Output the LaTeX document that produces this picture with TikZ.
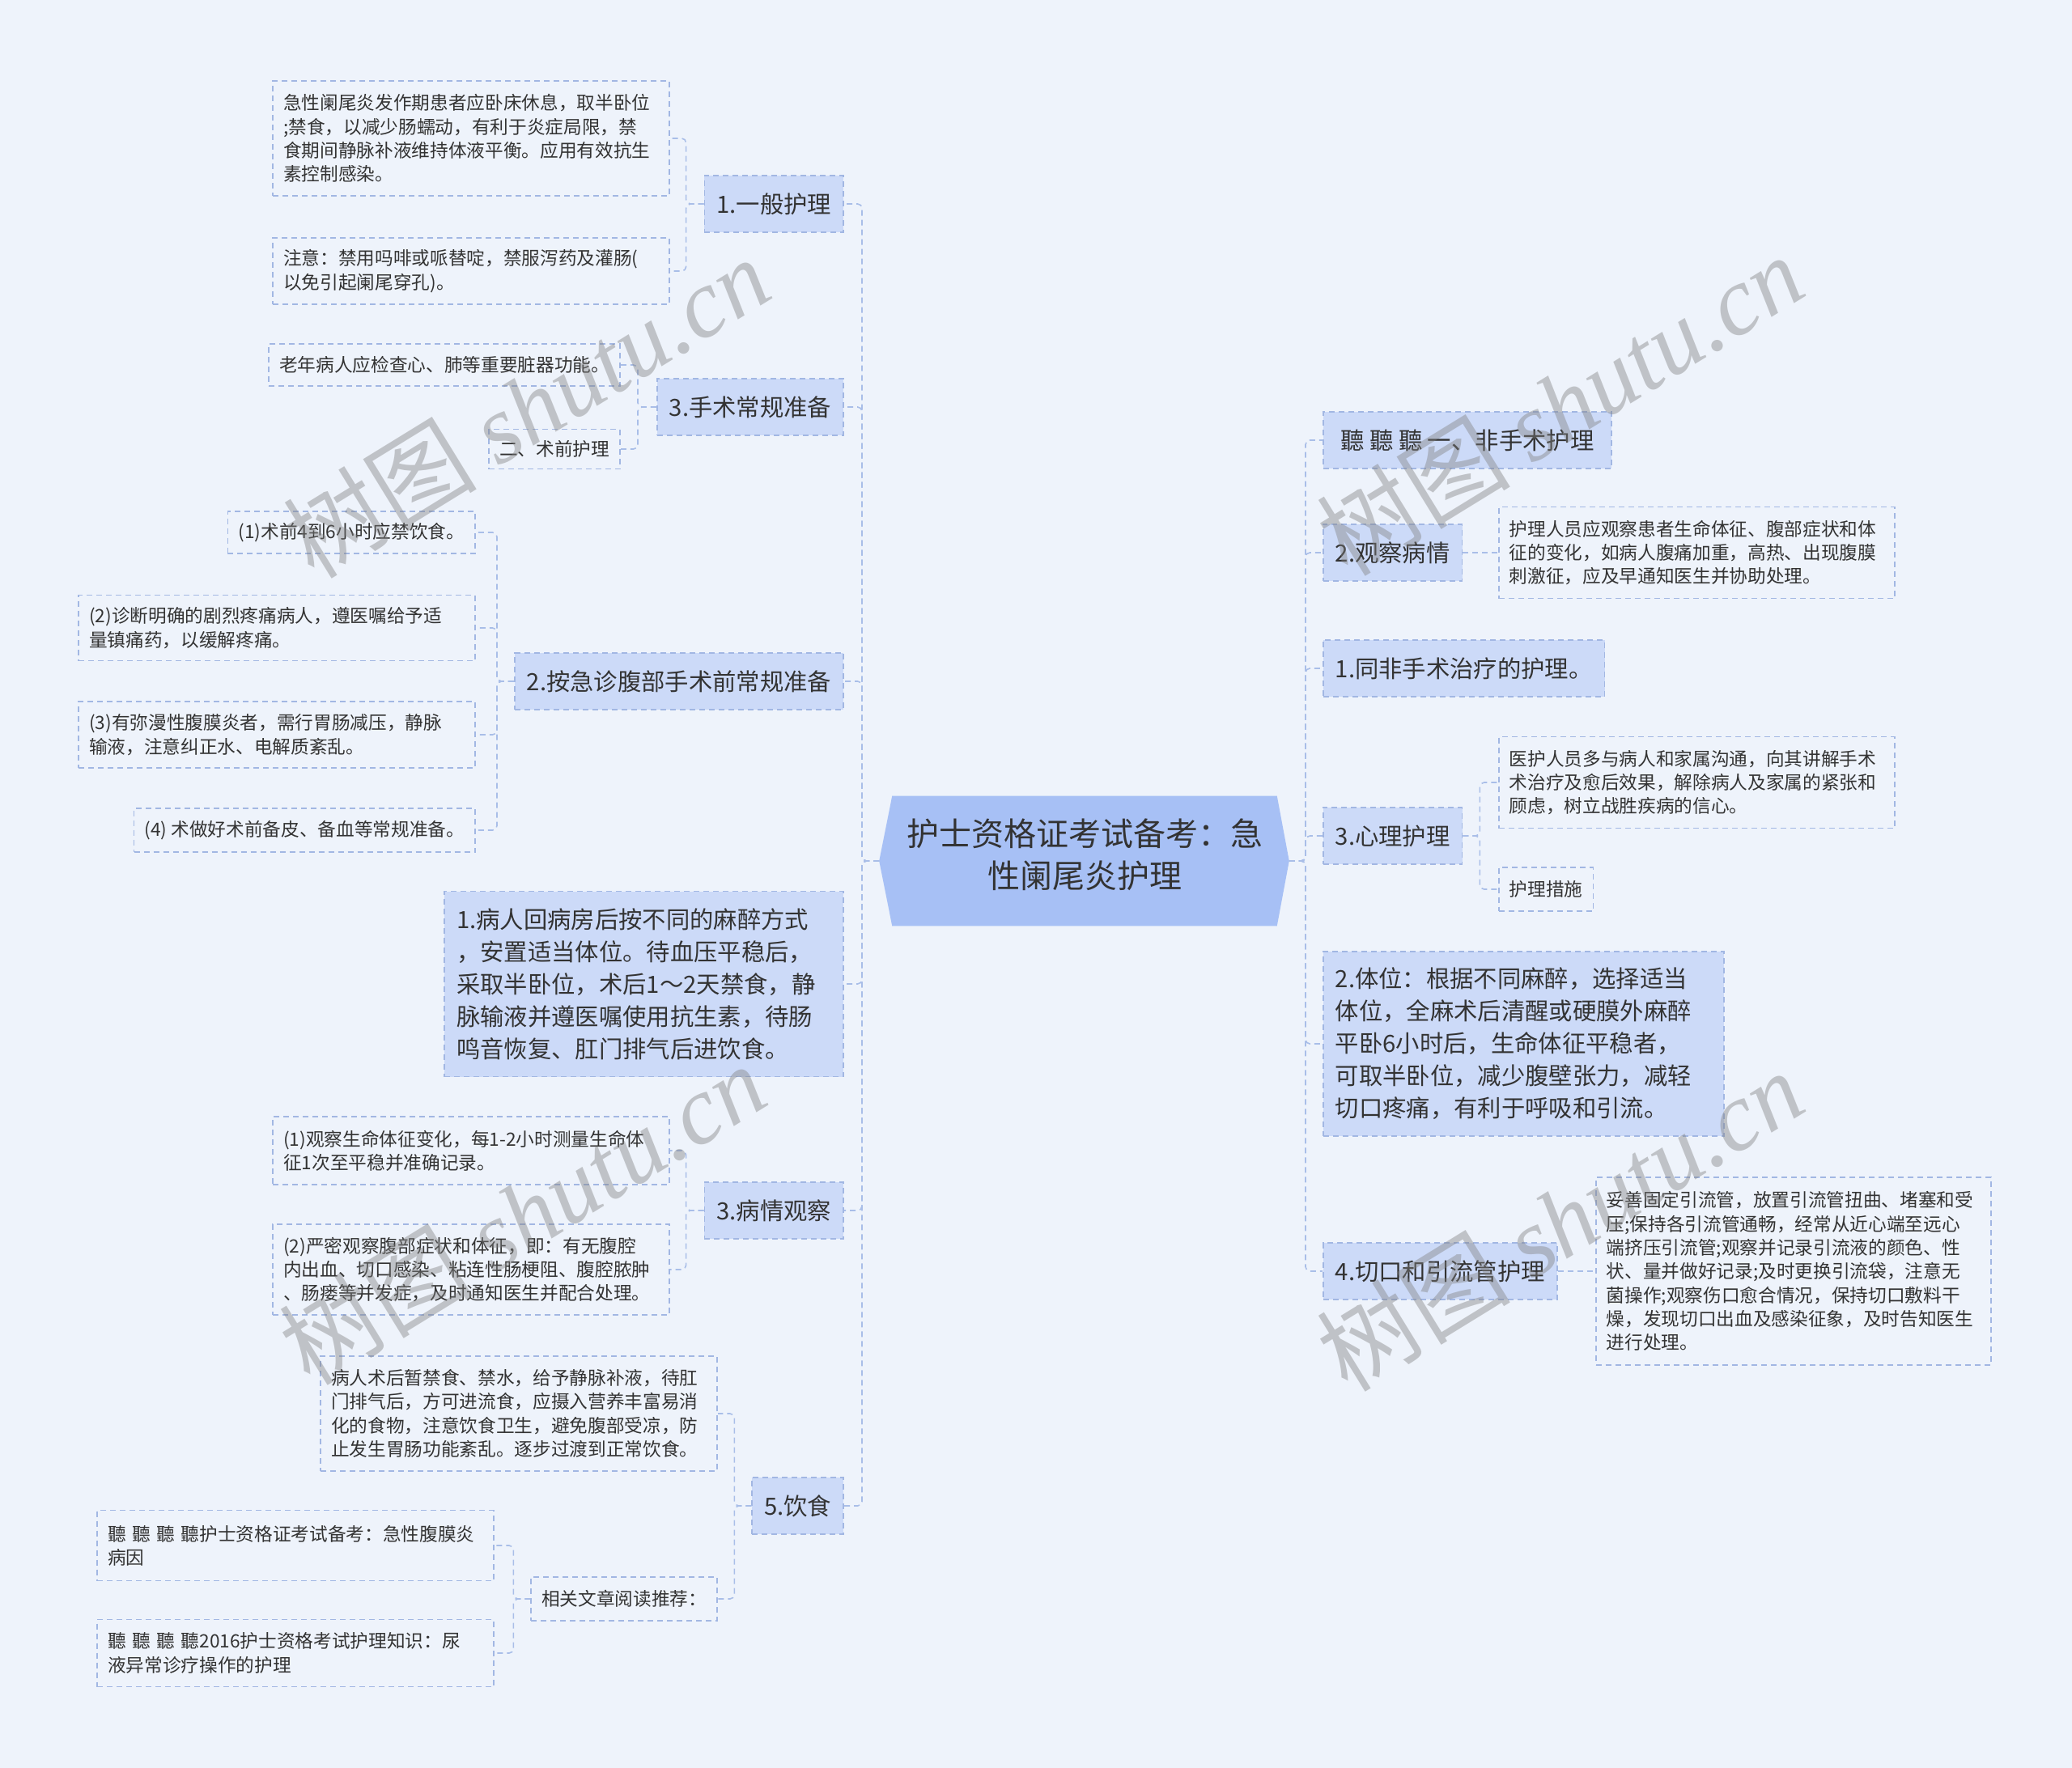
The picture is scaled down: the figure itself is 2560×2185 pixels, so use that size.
\documentclass[tikz,border=0pt]{standalone}
\usepackage{fontspec}
\setmainfont{Noto Sans CJK SC}
\newfontfamily\wmlatin{Liberation Serif}
\usetikzlibrary{calc}
\newdimen\pxu
\pxu=0.75pt
\definecolor{bgc}{HTML}{EEF3FB}
\definecolor{lvfill}{HTML}{CCDAF8}
\definecolor{rootfill}{HTML}{A7C0F5}
\definecolor{bord}{HTML}{A2B7E3}
\definecolor{conc}{HTML}{A9BEE8}
\definecolor{txt}{HTML}{333333}
\definecolor{wmc}{HTML}{808080}
\pgfdeclarelayer{bg}
\pgfsetlayers{bg,main}
\begin{document}
\begin{tikzpicture}[x=0.75pt,y=-0.75pt,
  box/.style={draw=bord, dash pattern=on 5.25pt off 3.75pt, line width=1.2pt,
    inner xsep=13\pxu, inner ysep=0pt, text=txt, align=left},
  leaf/.style={box, font=\fontsize{17}{22}\selectfont},
  lvl/.style={box, fill=lvfill, font=\fontsize{22}{30}\selectfont,
    minimum height=70\pxu, inner xsep=15\pxu},
  big/.style={box, fill=lvfill, font=\fontsize{22}{30}\selectfont, inner xsep=15\pxu},
  rootnode/.style={minimum width=475\pxu, minimum height=160\pxu, inner sep=0pt,
    align=center, text=txt, font=\fontsize{30}{39}\selectfont},
  conn/.style={draw=conc, dash pattern=on 5.25pt off 3.75pt, line width=1.2pt,
    rounded corners=4pt},
  wm/.style={text=wmc, opacity=0.42, font=\fontsize{90}{90}\selectfont, inner sep=0pt}
]
\useasboundingbox (0,0) rectangle (2560,2185);

% root (text sits slightly above the middle of the hexagon)
\node[rootnode] (root) at (1340,1056) {护士资格证考试备考：急\\性阑尾炎护理};
\coordinate (hnw) at ($(root.north west)+(0,8)$);
\coordinate (hne) at ($(root.north east)+(0,8)$);
\coordinate (hse) at ($(root.south east)+(0,8)$);
\coordinate (hsw) at ($(root.south west)+(0,8)$);
\coordinate (rl) at ($(root.west)+(-16,8)$);
\coordinate (rr) at ($(root.east)+(15,8)$);
\coordinate (tl) at (1065,1064);
\coordinate (tr) at (1613,1064);
\begin{pgfonlayer}{bg}
  \fill[bgc] (0,0) rectangle (2560,2185);
  \fill[rootfill] (hnw) -- (hne) -- (rr) -- (hse) -- (hsw) -- (rl) -- cycle;
\end{pgfonlayer}

% left level 1
\node[lvl, anchor=east] (l1) at (1043,252) {1.一般护理};
\node[lvl, anchor=east] (l2) at (1043,503) {3.手术常规准备};
\node[lvl, anchor=east] (l3) at (1043,842) {2.按急诊腹部手术前常规准备};
\node[big, anchor=east, text width=463\pxu, minimum height=229\pxu] (l4) at (1043,1216)
  {1.病人回病房后按不同的麻醉方式\\，安置适当体位。待血压平稳后，\\采取半卧位，术后1～2天禁食，静\\脉输液并遵医嘱使用抗生素，待肠\\鸣音恢复、肛门排气后进饮食。};
\node[lvl, anchor=east] (l5) at (1043,1496) {3.病情观察};
\node[lvl, anchor=east] (l6) at (1043,1861) {5.饮食};

% left leaves
\node[leaf, anchor=east, text width=464\pxu, minimum height=142\pxu] (a1) at (828,171)
  {急性阑尾炎发作期患者应卧床休息，取半卧位\\;禁食，以减少肠蠕动，有利于炎症局限，禁\\食期间静脉补液维持体液平衡。应用有效抗生\\素控制感染。};
\node[leaf, anchor=east, text width=464\pxu, minimum height=82\pxu] (a2) at (828,335)
  {注意：禁用吗啡或哌替啶，禁服泻药及灌肠(\\以免引起阑尾穿孔)。};
\node[leaf, anchor=east, minimum height=52\pxu] (b1) at (767,451) {老年病人应检查心、肺等重要脏器功能。};
\node[leaf, anchor=east, minimum height=49\pxu] (b2) at (767,555) {二、术前护理};
\node[leaf, anchor=east, minimum height=52\pxu] (c1) at (588,658) {(1)术前4到6小时应禁饮食。};
\node[leaf, anchor=east, text width=464\pxu, minimum height=81\pxu] (c2) at (588,776)
  {(2)诊断明确的剧烈疼痛病人，遵医嘱给予适\\量镇痛药，以缓解疼痛。};
\node[leaf, anchor=east, text width=464\pxu, minimum height=82\pxu] (c3) at (588,908)
  {(3)有弥漫性腹膜炎者，需行胃肠减压，静脉\\输液，注意纠正水、电解质紊乱。};
\node[leaf, anchor=east, minimum height=54\pxu] (c4) at (588,1026) {(4) 术做好术前备皮、备血等常规准备。};
\node[leaf, anchor=east, text width=464\pxu, minimum height=84\pxu] (e1) at (828,1422)
  {(1)观察生命体征变化，每1-2小时测量生命体\\征1次至平稳并准确记录。};
\node[leaf, anchor=east, text width=464\pxu, minimum height=112\pxu] (e2) at (828,1569)
  {(2)严密观察腹部症状和体征，即：有无腹腔\\内出血、切口感染、粘连性肠梗阻、腹腔脓肿\\、肠瘘等并发症，及时通知医生并配合处理。};
\node[leaf, anchor=east, text width=464\pxu, minimum height=142\pxu] (f1) at (887,1747)
  {病人术后暂禁食、禁水，给予静脉补液，待肛\\门排气后，方可进流食，应摄入营养丰富易消\\化的食物，注意饮食卫生，避免腹部受凉，防\\止发生胃肠功能紊乱。逐步过渡到正常饮食。};
\node[leaf, anchor=east, minimum height=54\pxu] (f2) at (887,1976) {相关文章阅读推荐：};
\node[leaf, anchor=east, text width=464\pxu, minimum height=87\pxu] (g1) at (611,1910)
  {聽 聽 聽 聽护士资格证考试备考：急性腹膜炎\\病因};
\node[leaf, anchor=east, text width=464\pxu, minimum height=83\pxu] (g2) at (611,2043)
  {聽 聽 聽 聽2016护士资格考试护理知识：尿\\液异常诊疗操作的护理};

% right level 1
\node[lvl, anchor=west, minimum width=356\pxu] (r1) at (1634,544) {聽 聽 聽 一、非手术护理};
\node[lvl, anchor=west] (r2) at (1634,683) {2.观察病情};
\node[lvl, anchor=west] (r3) at (1634,826) {1.同非手术治疗的护理。};
\node[lvl, anchor=west] (r4) at (1634,1033) {3.心理护理};
\node[big, anchor=west, text width=465\pxu, minimum height=228\pxu] (r5) at (1634,1290)
  {2.体位：根据不同麻醉，选择适当\\体位，全麻术后清醒或硬膜外麻醉\\平卧6小时后，生命体征平稳者，\\可取半卧位，减少腹壁张力，减轻\\切口疼痛，有利于呼吸和引流。};
\node[lvl, anchor=west] (r6) at (1634,1571) {4.切口和引流管护理};

% right leaves
\node[leaf, anchor=west, text width=463\pxu, minimum height=113\pxu] (r2a) at (1851,683)
  {护理人员应观察患者生命体征、腹部症状和体\\征的变化，如病人腹痛加重，高热、出现腹膜\\刺激征，应及早通知医生并协助处理。};
\node[leaf, anchor=west, text width=463\pxu, minimum height=113\pxu] (r4a) at (1851,967)
  {医护人员多与病人和家属沟通，向其讲解手术\\术治疗及愈后效果，解除病人及家属的紧张和\\顾虑，树立战胜疾病的信心。};
\node[leaf, anchor=west, minimum height=54\pxu] (r4b) at (1851,1099) {护理措施};
\node[leaf, anchor=west, text width=462\pxu, minimum height=232\pxu] (r6a) at (1971,1571)
  {妥善固定引流管，放置引流管扭曲、堵塞和受\\压;保持各引流管通畅，经常从近心端至远心\\端挤压引流管;观察并记录引流液的颜色、性\\状、量并做好记录;及时更换引流袋，注意无\\菌操作;观察伤口愈合情况，保持切口敷料干\\燥，发现切口出血及感染征象，及时告知医生\\进行处理。};

% connectors root -> level 1
\foreach \n in {l1,l2,l3,l4,l5,l6}
  \draw[conn] (rl) -- (tl) |- (\n.east);
\foreach \n in {r1,r2,r3,r4,r5,r6}
  \draw[conn] (rr) -- (tr) |- (\n.west);

% left sub connectors
\foreach \n in {a1,a2} \draw[conn] (l1.west) -- ++(-22,0) |- (\n.east);
\foreach \n in {b1,b2} \draw[conn] (l2.west) -- ++(-23,0) |- (\n.east);
\foreach \n in {c1,c2,c3,c4} \draw[conn] (l3.west) -- ++(-21,0) |- (\n.east);
\foreach \n in {e1,e2} \draw[conn] (l5.west) -- ++(-22,0) |- (\n.east);
\foreach \n in {f1,f2} \draw[conn] (l6.west) -- ++(-21,0) |- (\n.east);
\foreach \n in {g1,g2} \draw[conn] (f2.west) -- ++(-21,0) |- (\n.east);

% right sub connectors
\draw[conn] (r2.east) -- (r2a.west);
\foreach \n in {r4a,r4b} \draw[conn] (r4.east) -- ++(21,0) |- (\n.west);
\draw[conn] (r6.east) -- (r6a.west);

% watermarks
\node[wm, rotate=31.6] (w1) at (650,503) {树图 {\wmlatin\itshape shutu.cn}};
\node[wm, rotate=31.6] (w2) at (1927,500) {树图 {\wmlatin\itshape shutu.cn}};
\node[wm, rotate=31.6] (w3) at (645,1500) {树图 {\wmlatin\itshape shutu.cn}};
\node[wm, rotate=31.6] (w4) at (1927,1508) {树图 {\wmlatin\itshape shutu.cn}};
\end{tikzpicture}
\end{document}
